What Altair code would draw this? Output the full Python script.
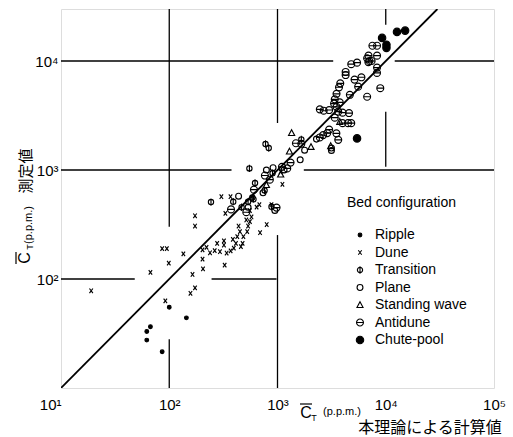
import altair as alt
import pandas as pd

# ---------------- data ----------------
categories = ["Ripple", "Dune", "Transition", "Plane", "Standing wave", "Antidune", "Chute-pool"]

ripple_x = [62, 67, 62, 86, 100, 144]
ripple_y = [33, 36.5, 27.5, 21.5, 55, 44]

dune_x = [19, 67, 86, 95, 99, 92, 135, 173, 173, 164, 173, 157, 203, 221, 203, 205, 238, 263,
          277, 320, 320, 294, 339, 369, 395, 413, 387, 425, 450, 476, 459, 437, 484, 525, 535,
          556, 515, 575, 556, 690, 795, 325, 641, 303, 368, 330, 880, 680, 1110, 1070]
dune_y = [78, 115, 190, 190, 140, 63, 170, 380, 306, 110, 83, 74, 185, 195, 152, 124, 174, 182,
          212, 224, 205, 178, 173, 181, 192, 212, 231, 245, 272, 212, 198, 306, 245, 272, 306,
          336, 348, 371, 424, 266, 316, 134, 457, 569, 569, 400, 480, 480, 740, 960]

transition_x = [243, 390, 466, 535, 585, 620, 900, 550, 775, 830, 880, 1660, 600, 760]
transition_y = [508, 512, 455, 512, 560, 760, 935, 1035, 1730, 1590, 460, 1910, 540, 650]

plane_x = [437, 535, 735, 790, 910, 945, 1150, 1620, 1780, 3150, 3150, 2290]
plane_y = [575, 455, 617, 1000, 1050, 425, 1000, 1240, 1520, 1590, 1510, 1920]

standing_x = [1350, 1290, 2040, 3760, 3100, 1070, 790]
standing_y = [2190, 1480, 1630, 2770, 1660, 910, 730]

antidune_x = [372, 515, 606, 765, 850, 980, 1100, 1230, 1320, 1480, 1660,
              4800, 5430, 4260, 4260, 6910, 7400, 5960, 5150, 8300, 3800, 3700, 5560, 4660,
              6730, 3510, 3380, 3330, 3510, 3760, 2460, 2670, 3000, 3640, 3990, 4580, 3380,
              3990, 4480, 4800, 3000, 2880, 2640, 2460, 3500, 3640, 7530, 8310, 6930, 6730,
              7070, 8310, 8310, 8900]
antidune_y = [435, 410, 660, 890, 815, 452, 1070, 1035, 1170, 1760, 1740,
              9350, 9660, 7930, 7430, 9770, 10000, 7090, 6750, 7780, 6240, 5740, 5820, 4900,
              4700, 5000, 4450, 4070, 3800, 4170, 3600, 3500, 3550, 3430, 3360, 3330, 3020,
              2690, 2690, 2690, 2350, 2180, 2090, 1990, 2170, 1890, 13800, 13800, 11200, 10600,
              10000, 11200, 8700, 5630]

chute_x = [15100, 12700, 9250, 10150, 10150, 5430]
chute_y = [19000, 18500, 16300, 14100, 13200, 1950]

# broken grid lines of the original (data coordinates)
hgrid_y = [1e4, 1e4, 1e3, 1e3, 1e2, 1e2]
hgrid_x1 = [10, 12100, 10, 1750, 10, 246]
hgrid_x2 = [3270, 1e5, 376, 1e5, 48, 980]

vgrid_x = [1e2, 1e2, 1e3, 1e3, 1e4, 1e4]
vgrid_y1 = [302, 10, 2700, 10, 21500, 1070]
vgrid_y2 = [30000, 28, 30000, 253, 30000, 3430]

line_x = [10, 30000]
line_y = [10, 30000]

x_ticks = [10, 100, 1000, 10000, 100000]
y_ticks = [100, 1000, 10000]

# ---------------- build tables ----------------
series = [(categories[0], ripple_x, ripple_y), (categories[1], dune_x, dune_y),
          (categories[2], transition_x, transition_y), (categories[3], plane_x, plane_y),
          (categories[4], standing_x, standing_y), (categories[5], antidune_x, antidune_y),
          (categories[6], chute_x, chute_y)]
rows = []
for name, xs_, ys_ in series:
    for a, b in zip(xs_, ys_):
        rows.append({"x": a, "y": b, "config": name})
pts = pd.DataFrame(rows)

hdf = pd.DataFrame({"y": hgrid_y, "x1": hgrid_x1, "x2": hgrid_x2})
vdf = pd.DataFrame({"x": vgrid_x, "y1": vgrid_y1, "y2": vgrid_y2})
ldf = pd.DataFrame({"x": line_x, "y": line_y})

CIRCLE = "M-1,0A1,1,0,1,1,1,0A1,1,0,1,1,-1,0Z"
shapes = [CIRCLE,
          "M-0.75,-1L0.75,1M-0.75,1L0.75,-1",
          CIRCLE + "M0,-1.4L0,1.4",
          CIRCLE,
          "M0,-1L0.95,0.8L-0.95,0.8Z",
          CIRCLE + "M-1,0L1,0",
          CIRCLE]
fills = ["black", "transparent", "transparent", "transparent", "transparent", "transparent", "black"]
strokes = ["black"] * 7
sizes = [14, 55, 45, 45, 55, 45, 70]

sup = "['⁰','¹','²','³','⁴','⁵']"
label_expr = "'10' + " + sup + "[round(log(datum.value)/LN10)]"

xs = alt.Scale(type="log", domain=[10, 100000], nice=False)
ys = alt.Scale(type="log", domain=[10, 30000], nice=False)

x_axis = alt.Axis(values=x_ticks, labelExpr=label_expr, title=None, grid=False, ticks=False,
                  domain=False, labelFontSize=15, labelPadding=9, labelFlush=False,
                  labelOverlap=False, labelColor="black",
                  labelAlign={"condition": {"test": "datum.value == 10", "value": "right"},
                              "value": "center"})
y_axis = alt.Axis(values=y_ticks, labelExpr=label_expr, title=None, grid=False, ticks=False,
                  domain=False, labelFontSize=15, labelPadding=3, labelFlush=False,
                  labelOverlap=False, labelColor="black")

hgrid = alt.Chart(hdf).mark_rule(color="black", strokeWidth=1.3).encode(
    x=alt.X("x1:Q", scale=xs, axis=x_axis), x2="x2:Q",
    y=alt.Y("y:Q", scale=ys, axis=y_axis))
vgrid = alt.Chart(vdf).mark_rule(color="black", strokeWidth=1.3).encode(
    x=alt.X("x:Q", scale=xs, axis=x_axis),
    y=alt.Y("y1:Q", scale=ys, axis=y_axis), y2="y2:Q")
diag = alt.Chart(ldf).mark_line(color="black", strokeWidth=1.8, clip=True).encode(
    x=alt.X("x:Q", scale=xs, axis=x_axis), y=alt.Y("y:Q", scale=ys, axis=y_axis))

leg = alt.Legend(title="Bed configuration", orient="none", legendX=286, legendY=187)
points = alt.Chart(pts).mark_point(filled=False, opacity=1, strokeWidth=1.15).encode(
    x=alt.X("x:Q", scale=xs, axis=x_axis),
    y=alt.Y("y:Q", scale=ys, axis=y_axis),
    shape=alt.Shape("config:N", scale=alt.Scale(domain=categories, range=shapes), legend=leg),
    fill=alt.Fill("config:N", scale=alt.Scale(domain=categories, range=fills), legend=leg),
    stroke=alt.Stroke("config:N", scale=alt.Scale(domain=categories, range=strokes), legend=leg),
    size=alt.Size("config:N", scale=alt.Scale(domain=categories, range=sizes), legend=leg),
)


def txt(s, px, py, size, angle=0, font="Liberation Sans"):
    return alt.Chart(alt.Data(values=[{"t": s}])).mark_text(
        align="center", baseline="middle", fontSize=size, angle=angle, font=font, color="black"
    ).encode(x=alt.value(px), y=alt.value(py), text="t:N")


def bar(x1, x2, y1, y2):
    # overline stroke above the "C" of the axis titles
    return alt.Chart(alt.Data(values=[{}])).mark_rule(color="black", strokeWidth=1.2).encode(
        x=alt.value(x1), x2=alt.value(x2), y=alt.value(y1), y2=alt.value(y2))


labels = [
    txt("C", 245, 404, 16),
    bar(239, 251, 395, 395),
    txt("T", 253, 409, 9),
    txt("(p.p.m.)", 281, 403, 11),
    txt("本理論による計算値", 369, 419, 16, font="Noto Sans CJK JP"),
    txt("C", -36, 249, 16, angle=270),
    bar(-45, -45, 243, 255),
    txt("T", -31, 238, 9, angle=270),
    txt("(p.p.m.)", -32, 216, 11, angle=270),
    txt("測定値", -35, 162, 15, angle=270, font="Noto Sans CJK JP"),
]

chart = alt.layer(hgrid, vgrid, diag, points, *labels).properties(
    width=433, height=379,
    padding={"left": 61, "top": 9, "right": 19, "bottom": 49},
    autosize=alt.AutoSizeParams(type="none"),
    background="white",
).configure_view(stroke="black", strokeWidth=1.6).configure(
    font="Liberation Sans"
).configure_legend(
    titleFontSize=14, titleFontWeight="normal", titleColor="black", titlePadding=18,
    labelFontSize=14, labelColor="black", symbolOffset=6, labelOffset=8, rowPadding=3.5,
    symbolStrokeWidth=1.1, padding=0,
)

chart.save("out.html", embed_options={"renderer": "svg", "actions": False})
